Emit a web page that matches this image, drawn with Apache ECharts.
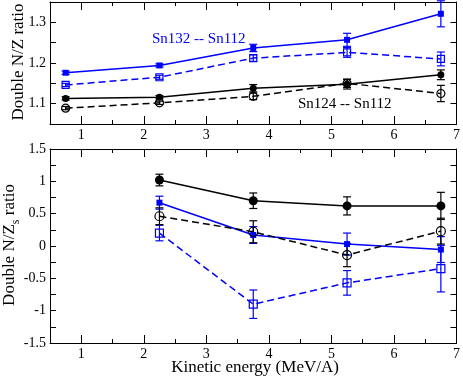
<!DOCTYPE html>
<html>
<head>
<meta charset="utf-8">
<script src="https://cdn.jsdelivr.net/npm/echarts@6/dist/echarts.min.js"></script>
<style>html,body{margin:0;padding:0;background:#fff}#c{width:463px;height:377px}</style>
</head>
<body>
<div id="c"></div>
<script>
// ---- data ----
const energyTop = [0.75, 2.25, 3.75, 5.25, 6.75];
const energyBottom = [2.25, 3.75, 5.25, 6.75];

const sn132Ratio      = [1.176, 1.194, 1.237, 1.257, 1.321];
const sn132RatioErr   = [0.004, 0.004, 0.009, 0.016, 0.032];
const sn132RatioO     = [1.146, 1.165, 1.212, 1.226, 1.210];
const sn132RatioOErr  = [0.004, 0.005, 0.008, 0.012, 0.017];
const sn124Ratio      = [1.113, 1.116, 1.138, 1.148, 1.171];
const sn124RatioErr   = [0.004, 0.004, 0.009, 0.012, 0.012];
const sn124RatioO     = [1.089, 1.102, 1.118, 1.150, 1.125];
const sn124RatioOErr  = [0.004, 0.004, 0.008, 0.010, 0.020];

const sn132Ns      = [0.67, 0.17, 0.03, -0.055];
const sn132NsErr   = [0.10, 0.13, 0.17, 0.20];
const sn132NsO     = [0.20, -0.90, -0.57, -0.35];
const sn132NsOErr  = [0.12, 0.22, 0.19, 0.36];
const sn124Ns      = [1.02, 0.70, 0.62, 0.62];
const sn124NsErr   = [0.09, 0.12, 0.14, 0.21];
const sn124NsO     = [0.46, 0.22, -0.14, 0.23];
const sn124NsOErr  = [0.13, 0.17, 0.18, 0.20];

const xTicks = [1, 2, 3, 4, 5, 6, 7];
const xMinorTicks = [0.5, 1.5, 2.5, 3.5, 4.5, 5.5, 6.5];
const topYTicks = [1.1, 1.2, 1.3];
const bottomYTicks = [-1.5, -1, -0.5, 0, 0.5, 1, 1.5];

const BLUE = '#0000ff', BLACK = '#000000';
const FONT = 'Liberation Serif';

function pairs(xs, ys) { return xs.map((x, i) => [x, ys[i]]); }
function triples(xs, ys, es) { return xs.map((x, i) => [x, ys[i], es[i]]); }

function xAxes(gi, withLabels) {
  const base = {gridIndex: gi, type: 'value', min: 0.5, max: 7, splitLine: {show: false}};
  return [
    Object.assign({}, base, {position: 'bottom',
      axisLine: {show: true, onZero: false, lineStyle: {color: '#000', width: 1}},
      axisTick: {show: true, inside: true, length: 8, customValues: xTicks, lineStyle: {color: '#000'}},
      axisLabel: {show: withLabels, customValues: xTicks, margin: 4, color: '#000', fontFamily: FONT, fontSize: 14}}),
    Object.assign({}, base, {position: 'bottom',
      axisLine: {show: false, onZero: false},
      axisTick: {show: true, inside: true, length: 4, customValues: xMinorTicks, lineStyle: {color: '#000'}},
      axisLabel: {show: false}}),
    Object.assign({}, base, {position: 'top',
      axisLine: {show: true, onZero: false, lineStyle: {color: '#000', width: 1}},
      axisTick: {show: true, inside: true, length: 8, customValues: xTicks, lineStyle: {color: '#000'}},
      axisLabel: {show: false}}),
    Object.assign({}, base, {position: 'top',
      axisLine: {show: false, onZero: false},
      axisTick: {show: true, inside: true, length: 4, customValues: xMinorTicks, lineStyle: {color: '#000'}},
      axisLabel: {show: false}})
  ];
}

function yAxes(gi, min, max, interval, labels, fmt) {
  const base = {gridIndex: gi, type: 'value', min: min, max: max, interval: interval, splitLine: {show: false},
    axisLine: {show: true, onZero: false, lineStyle: {color: '#000', width: 1}},
    axisTick: {show: true, inside: true, length: 6, lineStyle: {color: '#000'}}};
  return [
    Object.assign({}, base, {position: 'left',
      axisLabel: {show: true, customValues: labels, formatter: fmt, margin: 4, color: '#000', fontFamily: FONT, fontSize: 14}}),
    Object.assign({}, base, {position: 'right', axisLabel: {show: false}})
  ];
}

function lineSeries(xi, yi, xs, ys, color, dashed, symbol, size, filled) {
  return {
    type: 'line', xAxisIndex: xi, yAxisIndex: yi, data: pairs(xs, ys),
    symbol: symbol, symbolSize: size, showSymbol: true, z: 3,
    lineStyle: {color: color, width: 1.5, type: dashed ? [7, 4] : 'solid'},
    itemStyle: {color: filled ? color : 'rgba(0,0,0,0)', borderColor: color, borderWidth: filled ? 0 : 1.2}
  };
}

function errSeries(xi, yi, xs, ys, es, color) {
  return {
    type: 'custom', xAxisIndex: xi, yAxisIndex: yi, data: triples(xs, ys, es), z: 2,
    encode: {x: 0, y: 1},
    renderItem: function (params, api) {
      const x = api.value(0), y = api.value(1), e = api.value(2);
      const t = api.coord([x, y + e]), b = api.coord([x, y - e]);
      const w = 4;
      const st = {stroke: color, lineWidth: 1.2};
      return {type: 'group', children: [
        {type: 'line', shape: {x1: t[0], y1: t[1], x2: b[0], y2: b[1]}, style: st},
        {type: 'line', shape: {x1: t[0] - w, y1: t[1], x2: t[0] + w, y2: t[1]}, style: st},
        {type: 'line', shape: {x1: b[0] - w, y1: b[1], x2: b[0] + w, y2: b[1]}, style: st}
      ]};
    }
  };
}

const chart = echarts.init(document.getElementById('c'), null, {renderer: 'canvas'});
chart.setOption({
  animation: false,
  backgroundColor: '#fff',
  grid: [
    {left: 50, top: 2, width: 408, height: 122},
    {left: 50, top: 149, width: 408, height: 194}
  ],
  xAxis: [].concat(xAxes(0, true), xAxes(1, true)),
  yAxis: [].concat(
    yAxes(0, 1.05, 1.35, 0.05, topYTicks, v => v.toFixed(1)),
    yAxes(1, -1.5, 1.5, 0.25, bottomYTicks, v => String(v))
  ),
  series: [
    errSeries(0, 0, energyTop, sn132Ratio, sn132RatioErr, BLUE),
    errSeries(0, 0, energyTop, sn132RatioO, sn132RatioOErr, BLUE),
    errSeries(0, 0, energyTop, sn124Ratio, sn124RatioErr, BLACK),
    errSeries(0, 0, energyTop, sn124RatioO, sn124RatioOErr, BLACK),
    lineSeries(0, 0, energyTop, sn132Ratio, BLUE, false, 'rect', 6, true),
    lineSeries(0, 0, energyTop, sn132RatioO, BLUE, true, 'rect', 7, false),
    lineSeries(0, 0, energyTop, sn124Ratio, BLACK, false, 'circle', 7, true),
    lineSeries(0, 0, energyTop, sn124RatioO, BLACK, true, 'circle', 8, false),

    errSeries(4, 2, energyBottom, sn132Ns, sn132NsErr, BLUE),
    errSeries(4, 2, energyBottom, sn132NsO, sn132NsOErr, BLUE),
    errSeries(4, 2, energyBottom, sn124Ns, sn124NsErr, BLACK),
    errSeries(4, 2, energyBottom, sn124NsO, sn124NsOErr, BLACK),
    lineSeries(4, 2, energyBottom, sn132Ns, BLUE, false, 'rect', 6, true),
    lineSeries(4, 2, energyBottom, sn132NsO, BLUE, true, 'rect', 8, false),
    lineSeries(4, 2, energyBottom, sn124Ns, BLACK, false, 'circle', 9, true),
    lineSeries(4, 2, energyBottom, sn124NsO, BLACK, true, 'circle', 9, false)
  ],
  graphic: [
    {type: 'text', x: 152, y: 39, style: {text: 'Sn132 -- Sn112', fill: BLUE, font: '15px "Liberation Serif"', textVerticalAlign: 'middle'}},
    {type: 'text', x: 298, y: 104, style: {text: 'Sn124 -- Sn112', fill: BLACK, font: '15px "Liberation Serif"', textVerticalAlign: 'middle'}},
    {type: 'text', x: 255, y: 368, style: {text: 'Kinetic energy (MeV/A)', fill: BLACK, font: '17px "Liberation Serif"', textAlign: 'center', textVerticalAlign: 'middle'}},
    {type: 'text', x: 19, y: 62, rotation: Math.PI / 2, style: {text: 'Double N/Z ratio', fill: BLACK, font: '17px "Liberation Serif"', textAlign: 'center', textVerticalAlign: 'middle'}},
    {type: 'text', x: 10, y: 245, rotation: Math.PI / 2, style: {
      text: '{m|Double N/Z}{s|s}{m| ratio}', fill: BLACK, textAlign: 'center', textVerticalAlign: 'middle',
      rich: {
        m: {fontFamily: FONT, fontSize: 17, lineHeight: 24, verticalAlign: 'middle', fill: BLACK},
        s: {fontFamily: FONT, fontSize: 12, lineHeight: 12, verticalAlign: 'bottom', fill: BLACK}
      }}}
  ]
});
</script>
</body>
</html>
